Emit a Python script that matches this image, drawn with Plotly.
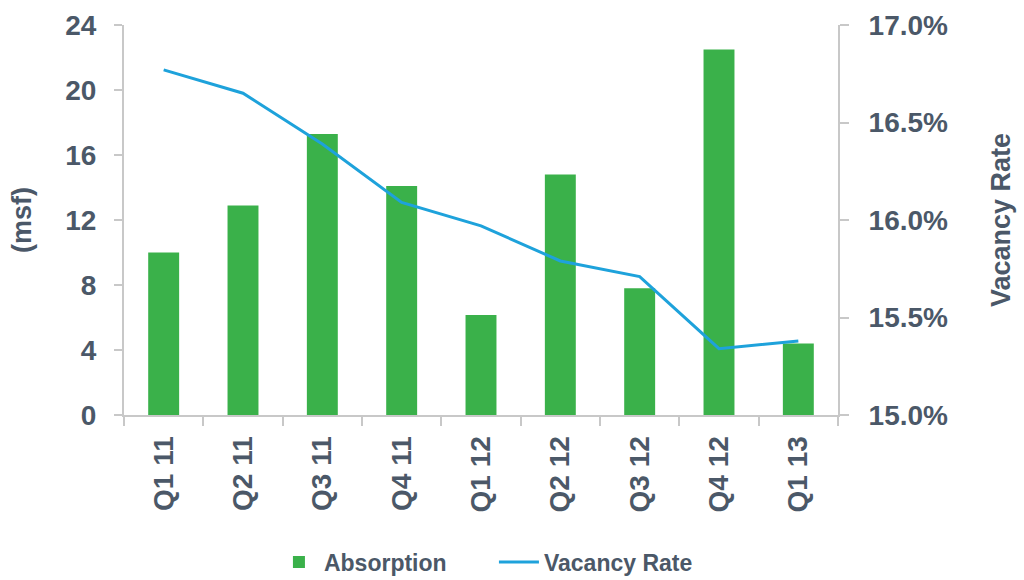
import plotly.graph_objects as go

quarters = ["Q1 11", "Q2 11", "Q3 11", "Q4 11", "Q1 12", "Q2 12", "Q3 12", "Q4 12", "Q1 13"]
absorption = [10.0, 12.9, 17.3, 14.1, 6.15, 14.8, 7.8, 22.5, 4.4]
vacancy_rate = [16.77, 16.65, 16.39, 16.09, 15.97, 15.79, 15.71, 15.34, 15.38]

text_color = "#4b5868"
axis_color = "#c8c8c8"
font_family = "Liberation Sans, Arial, sans-serif"

fig = go.Figure()
fig.add_trace(go.Bar(
    x=quarters, y=absorption, name="Absorption",
    marker=dict(color="#3ab14a", line=dict(width=0)),
    width=0.39, yaxis="y",
))
fig.add_trace(go.Scatter(
    x=quarters, y=vacancy_rate, name="Vacancy Rate", mode="lines",
    line=dict(color="#1ea2db", width=3), yaxis="y2",
))

tick_font = dict(family=font_family, size=28, color=text_color, weight="bold")
title_font = dict(family=font_family, size=27, color=text_color, weight="bold")

fig.update_layout(
    width=1024, height=580,
    margin=dict(l=124, r=186, t=25, b=165, autoexpand=False),
    paper_bgcolor="white", plot_bgcolor="white",
    showlegend=True,
    legend=dict(orientation="h", x=0.21, xanchor="left",
                yref="container", y=0.031, yanchor="middle",
                font=dict(family=font_family, size=23, color=text_color, weight="bold"),
                itemwidth=40, entrywidth=165, entrywidthmode="pixels",
                traceorder="normal"),
    xaxis=dict(
        automargin=False,
        showline=True, linecolor=axis_color, linewidth=2,
        ticks="outside", ticklen=9, tickcolor=axis_color, tickwidth=2,
        tickson="boundaries", tickangle=-90, tickfont=tick_font,
        ticklabelstandoff=8,
        showgrid=False, zeroline=False,
    ),
    yaxis=dict(
        automargin=False,
        range=[0, 24], dtick=4, tick0=0,
        showline=True, linecolor=axis_color, linewidth=2,
        ticks="outside", ticklen=8, tickcolor=axis_color, tickwidth=2,
        tickfont=tick_font, showgrid=False, zeroline=False,
        ticklabelstandoff=12,
        title=dict(text="(msf)", font=title_font, standoff=26),
    ),
    yaxis2=dict(
        automargin=False,
        range=[15, 17], dtick=0.5, tick0=15, overlaying="y", side="right",
        tickformat=".1f", ticksuffix="%",
        showline=True, linecolor=axis_color, linewidth=2,
        ticks="outside", ticklen=9, tickcolor=axis_color, tickwidth=2,
        tickfont=tick_font, showgrid=False, zeroline=False,
        ticklabelstandoff=14,
        title=dict(text="Vacancy Rate", font=title_font, standoff=44),
    ),
    bargap=0.61,
)

fig.write_html(
    "out.html",
    config={"displayModeBar": False},
    post_script="document.body.style.margin='0';document.body.style.overflow='hidden';",
)
